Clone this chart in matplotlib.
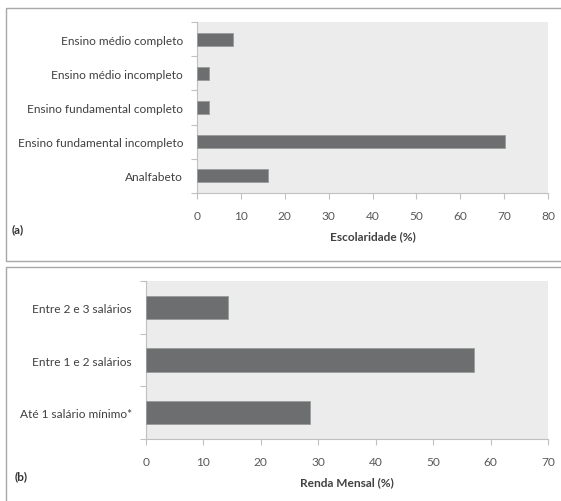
import numpy as np
import matplotlib
matplotlib.use("Agg")
import matplotlib.pyplot as plt
from matplotlib.lines import Line2D

plt.rcParams['font.family'] = ['Lato', 'DejaVu Sans']

# (a) escolaridade
esc_labels = ["Analfabeto", "Ensino fundamental incompleto", "Ensino fundamental completo",
              "Ensino médio incompleto", "Ensino médio completo"]
esc_values = [16.2, 70.3, 2.7, 2.7, 8.1]
esc_ticks = [0, 10, 20, 30, 40, 50, 60, 70, 80]

# (b) renda mensal
renda_labels = ["Até 1 salário mínimo*", "Entre 1 e 2 salários", "Entre 2 e 3 salários"]
renda_values = [28.6, 57.1, 14.3]
renda_ticks = [0, 10, 20, 30, 40, 50, 60, 70]

W, H = 561, 502
fig = plt.figure(figsize=(W / 100, H / 100), dpi=100)
fig.patch.set_facecolor("white")

BAR = "#6c6e6f"
BG = "#ebeceb"
AXC = "#c0c0c0"
FS = 8.6


def px(x0, y0, x1, y1):
    # pixel box -> figure fraction rect
    return [x0 / W, 1 - y1 / H, (x1 - x0) / W, (y1 - y0) / H]


def panel(rect, labels, values, ticks, xlabel, height):
    ax = fig.add_axes(rect)
    ax.set_facecolor(BG)
    y = np.arange(len(labels))
    ax.barh(y, values, height=height, color=BAR, edgecolor="#9a9c9c", linewidth=0.6, zorder=3)
    ax.set_xlim(ticks[0], ticks[-1])
    ax.set_ylim(-0.5, len(labels) - 0.5)
    ax.set_xticks(ticks)
    ax.set_yticks(y)
    ax.set_yticklabels(labels)
    ax.set_yticks(np.arange(len(labels) + 1) - 0.5, minor=True)
    ax.tick_params(axis="y", which="major", length=0, pad=10, labelsize=FS, labelcolor="#404040")
    ax.tick_params(axis="y", which="minor", length=4, color=AXC, width=0.8)
    ax.tick_params(axis="x", length=4, color=AXC, width=0.8, pad=8, labelsize=FS, labelcolor="#595959")
    for s in ["top", "right"]:
        ax.spines[s].set_visible(False)
    for s in ["left", "bottom"]:
        ax.spines[s].set_color(AXC)
        ax.spines[s].set_linewidth(0.8)
    ax.set_xlabel(xlabel, fontsize=FS, fontweight="bold", color="#404040", labelpad=7)
    return ax


panel(px(197, 23, 548, 194), esc_labels, esc_values, esc_ticks, "Escolaridade (%)", 0.38)
panel(px(146, 282, 548, 440), renda_labels, renda_values, renda_ticks, "Renda Mensal (%)", 0.44)

# panel frames, open on the right side
frames = [[(W, 9), (6, 9), (6, 262), (W, 262)],
          [(W, 268), (6, 268), (6, H)]]
for pts in frames:
    xs = [p[0] / W for p in pts]
    ys = [1 - p[1] / H for p in pts]
    fig.add_artist(Line2D(xs, ys, transform=fig.transFigure, color="#a8a8a8", linewidth=1.0))

fig.text(12 / W, 1 - 230 / H, "(a)", fontsize=FS, fontweight="bold", color="#303030", va="center")
fig.text(15 / W, 1 - 477 / H, "(b)", fontsize=FS, fontweight="bold", color="#303030", va="center")

fig.savefig("out.png", dpi=100)
